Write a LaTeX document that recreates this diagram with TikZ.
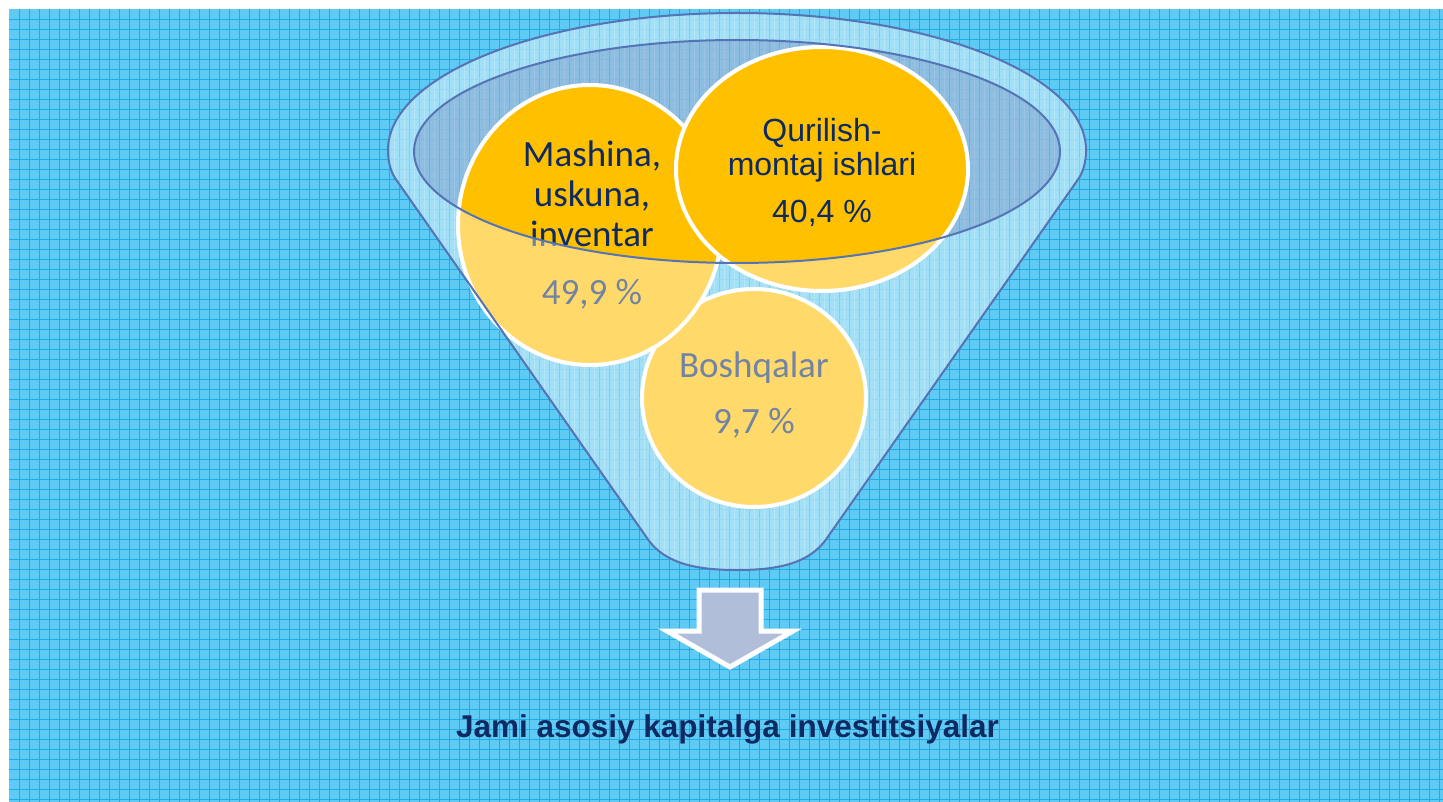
\documentclass[tikz,border=0pt]{standalone}
\usepackage{fontspec}
\usetikzlibrary{shapes.geometric}
\newfontfamily\calibri{Carlito}
\newfontfamily\arialf{Liberation Sans}
\definecolor{navy}{HTML}{0E2A63}
\definecolor{bgblue}{HTML}{5FCBF4}
\definecolor{gridblue}{HTML}{1CADE7}
\definecolor{funline}{HTML}{5573B5}
\definecolor{gold}{HTML}{FFC000}
\definecolor{arrowfill}{HTML}{B0BEDA}
\definecolor{tint}{RGB}{180,180,210}
\begin{document}
\begin{tikzpicture}[x=1pt,y=-1pt,
  bubble/.style={ellipse, draw=white, line width=4pt, fill=gold, inner sep=0pt},
  mtext/.style={anchor=base, text=navy, font=\calibri\fontsize{37}{40}\selectfont, inner sep=0pt},
  qtext/.style={anchor=base, text=navy, font=\arialf\fontsize{32}{36}\selectfont, inner sep=0pt},
  btext/.style={anchor=base, text=navy, font=\calibri\fontsize{37}{40}\selectfont, inner sep=0pt},
  funnelline/.style={draw=funline, line width=2pt},
  gridline/.style={gridblue, line width=1pt},
  glassgrid/.style={white, line width=1pt, opacity=0.22},
]
\useasboundingbox (0,0) rectangle (1443,802);
\fill[white] (0,0) rectangle (1443,802);
\fill[bgblue] (9,9) rectangle (1443,802);
\foreach \x in {19.5,29.5,...,1439.5} \draw[gridline] (\x,9) -- (\x,802);
\foreach \y in {19.5,29.5,...,799.5} \draw[gridline] (9,\y) -- (1443,\y);

% glass grid texture inside the funnel (behind the bubbles)
\begin{scope}
\clip
  (388,150) arc[start angle=180, end angle=360, x radius=349, y radius=137]
  .. controls (1086,160) and (1084,170) .. (1079,178) -- (827,538)
  .. controls (809,565) and (774,570) .. (737,570)
  .. controls (700,570) and (665,565) .. (647,538) -- (395,178)
  .. controls (390,170) and (388,160) .. cycle;
\foreach \x in {384.5,394.5,...,1089.5} \draw[glassgrid] (\x,9) -- (\x,575);
\foreach \y in {9.5,19.5,...,579.5} \draw[glassgrid] (380,\y) -- (1095,\y);
\end{scope}

% back of the funnel opening
\fill[tint, fill opacity=0.55] (737,151.5) ellipse[x radius=323, y radius=111.5];

% bubbles
\node[bubble, minimum width=224pt, minimum height=218pt] (bosh) at (754,398) {};
\node[bubble, minimum width=264pt, minimum height=280pt] (mash) at (590,225) {};
\node[bubble, minimum width=292pt, minimum height=244pt] (quril) at (822,169) {};

% texts
\node[mtext] (m1) at (592,167) {Mashina,};
\node[mtext] (m2) at (592,207) {uskuna,};
\node[mtext] (m3) at (592,247) {inventar};
\node[mtext] (m4) at (592,305) {49,9 \%};
\node[qtext] (q1) at (822,142) {Qurilish-};
\node[qtext] (q2) at (822,176) {montaj ishlari};
\node[qtext] (q3) at (822,223) {40,4 \%};
\node[btext] (b1) at (754,377) {Boshqalar};
\node[btext] (b2) at (754,433) {9,7 \%};

% funnel front (glass)
\fill[white, fill opacity=0.42, even odd rule]
  (388,150) arc[start angle=180, end angle=360, x radius=349, y radius=137]
  .. controls (1086,160) and (1084,170) .. (1079,178) -- (827,538)
  .. controls (809,565) and (774,570) .. (737,570)
  .. controls (700,570) and (665,565) .. (647,538) -- (395,178)
  .. controls (390,170) and (388,160) .. cycle
  (737,151.5) ellipse[x radius=323, y radius=111.5];

% funnel outlines
\draw[funnelline]
  (388,150) arc[start angle=180, end angle=360, x radius=349, y radius=137]
  .. controls (1086,160) and (1084,170) .. (1079,178) -- (827,538)
  .. controls (809,565) and (774,570) .. (737,570)
  .. controls (700,570) and (665,565) .. (647,538) -- (395,178)
  .. controls (390,170) and (388,160) .. cycle;
\draw[funnelline] (737,151.5) ellipse[x radius=323, y radius=111.5];

% arrow
\draw[white, line width=5pt, fill=arrowfill]
  (699,590) -- (761,590) -- (761,631) -- (793,631) -- (730,667) -- (667,631) -- (699,631) -- cycle;

% total
\node[anchor=base, text=navy, inner sep=0pt, font=\arialf\bfseries\fontsize{31.5}{36}\selectfont] (total) at (727.5,737) {Jami asosiy kapitalga investitsiyalar};
\end{tikzpicture}
\end{document}
